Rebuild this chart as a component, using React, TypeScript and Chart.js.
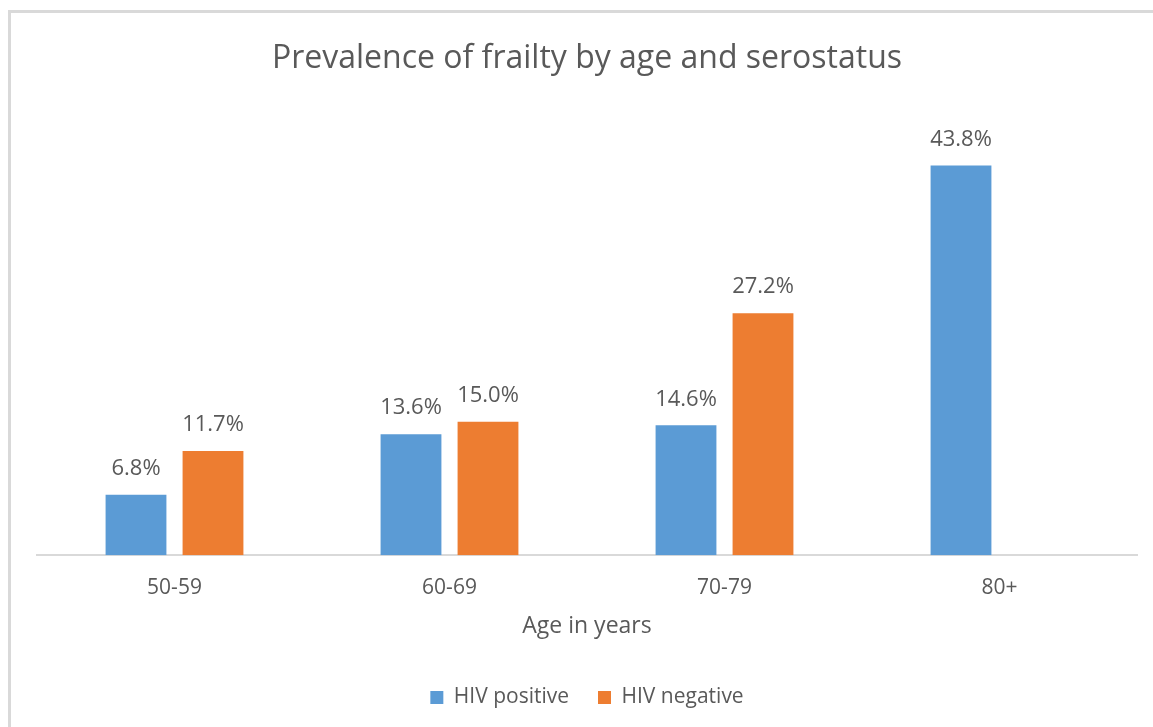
import React, { useEffect, useRef } from "react";
import { Chart, registerables } from "chart.js";

Chart.register(...registerables);

const categories = ["50-59", "60-69", "70-79", "80+"];
const hivPositive = [6.8, 13.6, 14.6, 43.8];
const hivNegative: (number | null)[] = [11.7, 15.0, 27.2, null];
const seriesNames = ["HIV positive", "HIV negative"];

const TEXT = "#595959";
const FONT = "'Open Sans', 'Noto Sans', sans-serif";

const labelPlugin = {
  id: "valueLabels",
  afterDatasetsDraw(chart: any) {
    const ctx = chart.ctx;
    ctx.save();
    ctx.font = `22px ${FONT}`;
    ctx.fillStyle = TEXT;
    ctx.textAlign = "center";
    ctx.textBaseline = "middle";
    chart.data.datasets.forEach((ds: any, i: number) => {
      const meta = chart.getDatasetMeta(i);
      meta.data.forEach((bar: any, j: number) => {
        const v = ds.data[j];
        if (v === null || v === undefined) return;
        ctx.fillText(v.toFixed(1) + "%", bar.x, bar.y - 26);
      });
    });
    ctx.restore();
  },
};

export default function App() {
  const ref = useRef<HTMLCanvasElement>(null);
  useEffect(() => {
    if (!ref.current) return;
    const chart = new Chart(ref.current, {
      type: "bar",
      data: {
        labels: categories,
        datasets: [
          {
            label: seriesNames[0],
            data: hivPositive,
            backgroundColor: "#5B9BD5",
            categoryPercentage: 0.56,
            barPercentage: 0.79,
          },
          {
            label: seriesNames[1],
            data: hivNegative,
            backgroundColor: "#ED7D31",
            categoryPercentage: 0.56,
            barPercentage: 0.79,
          },
        ],
      },
      options: {
        animation: false,
        responsive: false,
        maintainAspectRatio: false,
        layout: { padding: { left: 26, right: 16, top: 0, bottom: 9 } },
        plugins: {
          title: {
            display: true,
            text: "Prevalence of frailty by age and serostatus",
            color: TEXT,
            font: { family: FONT, size: 32, weight: "normal" },
            padding: { top: 27, bottom: 32 },
          },
          legend: {
            position: "bottom",
            labels: {
              color: TEXT,
              font: { family: FONT, size: 21 },
              boxWidth: 13,
              boxHeight: 13,
              padding: 29,
            },
          },
          tooltip: { enabled: false },
        },
        scales: {
          x: {
            grid: { display: false, drawTicks: false, tickLength: 0 },
            border: { display: true, color: "#d9d9d9", width: 2 },
            ticks: { color: TEXT, font: { family: FONT, size: 21 }, padding: 20 },
            title: {
              display: true,
              text: "Age in years",
              color: TEXT,
              font: { family: FONT, size: 23 },
              padding: { top: -8, bottom: 18 },
            },
          },
          y: { display: false, min: 0, max: 50 },
        },
      },
      plugins: [labelPlugin],
    });
    return () => chart.destroy();
  }, []);
  return (
    <div
      style={{
        position: "fixed",
        left: 8,
        top: 10,
        width: 1145,
        height: 717,
        borderLeft: "3px solid #d9d9d9",
        borderTop: "3px solid #d9d9d9",
        background: "#fff",
        overflow: "hidden",
      }}
    >
      <canvas ref={ref} width={1142} height={714} style={{ display: "block" }} />
    </div>
  );
}
